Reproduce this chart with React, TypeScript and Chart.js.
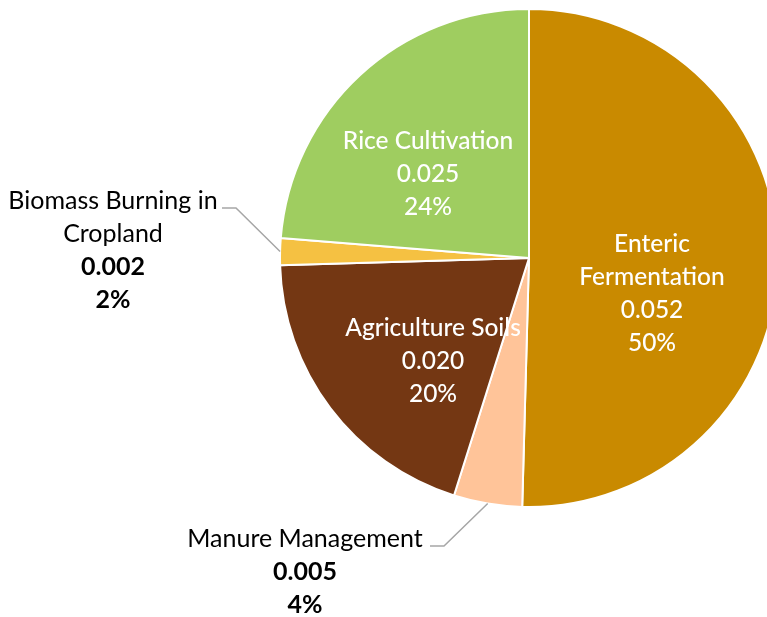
import React, { useEffect, useRef } from "react";
import { Chart, registerables } from "chart.js";

Chart.register(...registerables);

const categories = ["Enteric Fermentation", "Manure Management", "Agriculture Soils", "Biomass Burning in Cropland", "Rice Cultivation"];
const values = [0.0523, 0.0046, 0.0204, 0.0018, 0.0246];
const valueLabels = ["0.052", "0.005", "0.020", "0.002", "0.025"];
const percentLabels = ["50%", "4%", "20%", "2%", "24%"];
const nameLines = [["Enteric", "Fermentation"], ["Manure Management"], ["Agriculture Soils"], ["Biomass Burning in", "Cropland"], ["Rice Cultivation"]];
const colors = ["#C98A00", "#FFC499", "#743713", "#F5C142", "#9FCD60"];

// label layout: inside labels offset from pie centre; outside labels with anchor
const inside: Record<number, { dx: number; dy: number }> = {
  0: { dx: 123, dy: 36 },
  2: { dx: -96, dy: 103 },
  4: { dx: -101, dy: -84 },
};
const outside: Record<number, { tx: number; ty: number; lx: number; ly: number }> = {
  3: { tx: 113, ty: -57, lx: 222, ly: -50 },
  1: { tx: 305, ty: 281, lx: 430, ly: 288 },
};

const LINE = 33;
const WHITE_FONT = `500 24.5px Lato`;

const labelPlugin = {
  id: "pieLabels",
  afterDatasetsDraw(chart: any) {
    const ctx = chart.ctx;
    const meta = chart.getDatasetMeta(0);
    const cx = meta.data[0].x;
    const cy = meta.data[0].y;
    ctx.save();
    ctx.textAlign = "center";
    ctx.textBaseline = "middle";
    meta.data.forEach((arc: any, i: number) => {
      const lines: { t: string; bold: boolean }[] = [
        ...nameLines[i].map((t) => ({ t, bold: false })),
        { t: valueLabels[i], bold: true },
        { t: percentLabels[i], bold: true },
      ];
      if (inside[i]) {
        const { dx, dy } = inside[i];
        const n = lines.length;
        ctx.fillStyle = "#FFFFFF";
        ctx.font = WHITE_FONT;
        lines.forEach((l, k) => {
          ctx.fillText(l.t, cx + dx, cy + dy + (k - (n - 1) / 2) * LINE);
        });
      } else if (outside[i]) {
        const o = outside[i];
        ctx.fillStyle = "#000000";
        lines.forEach((l, k) => {
          ctx.font = l.bold ? `bold 25px Lato` : `25px Lato`;
          ctx.fillText(l.t, o.tx, cy + o.ty + k * LINE);
        });
        const mid = (arc.startAngle + arc.endAngle) / 2;
        const ex = arc.x + Math.cos(mid) * arc.outerRadius;
        const ey = arc.y + Math.sin(mid) * arc.outerRadius;
        const sy = cy + o.ly;
        ctx.strokeStyle = "#A6A6A6";
        ctx.lineWidth = 1.5;
        ctx.beginPath();
        ctx.moveTo(o.lx, sy);
        ctx.lineTo(o.lx + 14, sy);
        ctx.lineTo(ex, ey);
        ctx.stroke();
      }
    });
    ctx.restore();
  },
};

export default function App() {
  const ref = useRef<HTMLCanvasElement>(null);
  useEffect(() => {
    const chart = new Chart(ref.current!, {
      type: "pie",
      data: {
        labels: categories,
        datasets: [
          {
            data: values,
            backgroundColor: colors,
            borderColor: "#FFFFFF",
            borderWidth: 2,
          },
        ],
      },
      options: {
        responsive: false,
        animation: false,
        layout: { padding: { left: 279, right: 21, top: 8, bottom: 109 } },
        plugins: { legend: { display: false }, tooltip: { enabled: false } },
      },
      plugins: [labelPlugin],
    });
    return () => chart.destroy();
  }, []);
  return (
    <div style={{ position: "fixed", left: 0, top: 0, width: 767, height: 617, overflow: "hidden", background: "#fff" }}>
      <canvas ref={ref} width={800} height={617} style={{ display: "block" }} />
    </div>
  );
}
